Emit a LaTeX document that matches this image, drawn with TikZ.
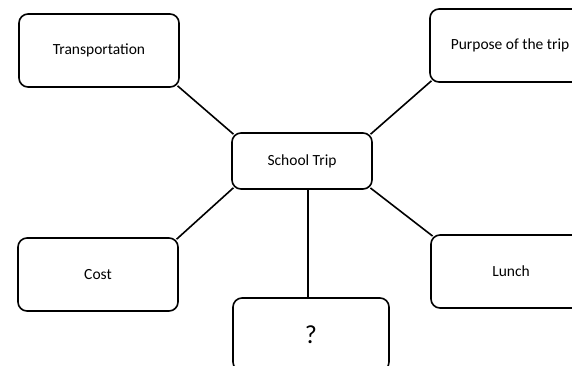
\documentclass[tikz,border=0pt]{standalone}
\usepackage{fontspec}
\setmainfont{Carlito}
\begin{document}
\begin{tikzpicture}[x=1pt,y=-1pt,
  topic/.style={draw,line width=1.6pt,rounded corners=9pt,minimum width=160pt,minimum height=73pt,
    font=\fontsize{15.5}{18}\selectfont},
  centre/.style={topic,minimum width=140pt,minimum height=56pt},
  link/.style={line width=1.6pt,shorten <=-3pt,shorten >=-3pt}]
 \useasboundingbox (0,0) rectangle (572,365);
 \clip (0,0) rectangle (572,365);
 % centre and the five topics
 \node[centre] (trip) at (302,161) {School Trip};
 \node[topic] (transport) at (99,50.5) {Transportation};
 \node[topic] (purpose) at (510,45.5) {Purpose of the trip};
 \node[topic] (cost) at (98,274.5) {Cost};
 \node[topic] (lunch) at (511,271.5) {Lunch};
 \node[topic,minimum width=156pt,font=\fontsize{26}{30}\selectfont] (q) at (311,334.5) {?};
 % spokes
 \draw[link] (transport.south east) -- (trip.north west);
 \draw[link] (purpose.south west) -- (trip.north east);
 \draw[link] (cost.north east) -- (trip.south west);
 \draw[link] (lunch.north west) -- (trip.south east);
 \draw[link,shorten <=0pt,shorten >=0pt] ([xshift=6pt]trip.south) -- ([xshift=6pt]trip.south |- q.north);
\end{tikzpicture}
\end{document}
